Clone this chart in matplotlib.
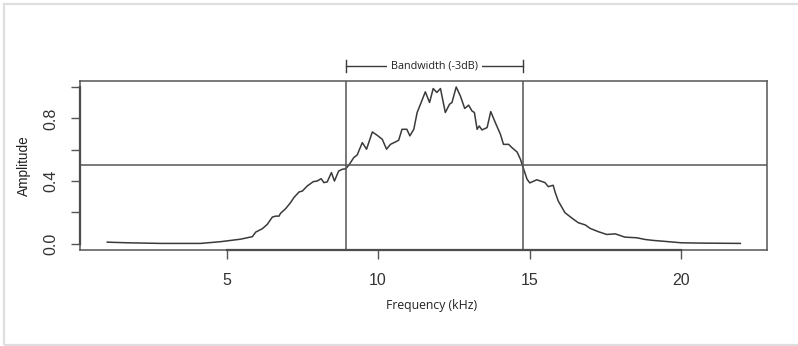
import matplotlib
matplotlib.use("Agg")
import matplotlib.pyplot as plt
import matplotlib.transforms as mtransforms
from matplotlib.patches import Rectangle

# spectrum (kHz, normalised amplitude)
freq = [1.06, 1.73, 2.83, 4.14, 4.80, 5.46, 5.85, 5.96, 6.18, 6.34, 6.51, 6.62,
        6.73, 6.78, 6.95, 7.11, 7.22, 7.39, 7.50, 7.66, 7.86, 7.99, 8.12, 8.21,
        8.32, 8.46, 8.56, 8.70, 8.82, 8.93, 9.03, 9.20, 9.31, 9.48, 9.62, 9.81,
        9.97, 10.14, 10.28, 10.41, 10.57, 10.68, 10.79, 10.95, 11.05, 11.18,
        11.29, 11.40, 11.56, 11.70, 11.82, 11.94, 12.06, 12.22, 12.36, 12.44,
        12.58, 12.72, 12.86, 12.99, 13.10, 13.18, 13.27, 13.34, 13.43, 13.60,
        13.72, 13.87, 14.04, 14.14, 14.31, 14.42, 14.59, 14.70, 14.77, 14.92,
        15.01, 15.24, 15.51, 15.62, 15.78, 15.85, 15.95, 16.17, 16.41, 16.61,
        16.84, 17.00, 17.27, 17.55, 17.83, 18.15, 18.54, 18.82, 19.09, 19.47,
        20.01, 20.63, 21.96]
amp = [0.010, 0.006, 0.002, 0.002, 0.013, 0.029, 0.045, 0.074, 0.096, 0.123,
       0.170, 0.176, 0.176, 0.194, 0.224, 0.262, 0.294, 0.330, 0.336, 0.368,
       0.396, 0.400, 0.415, 0.390, 0.394, 0.454, 0.400, 0.464, 0.475, 0.478,
       0.500, 0.550, 0.566, 0.645, 0.603, 0.713, 0.692, 0.666, 0.603, 0.634,
       0.649, 0.660, 0.730, 0.730, 0.688, 0.730, 0.837, 0.890, 0.969, 0.901,
       0.990, 0.965, 0.990, 0.837, 0.890, 0.901, 1.000, 0.941, 0.863, 0.884,
       0.847, 0.837, 0.730, 0.751, 0.726, 0.741, 0.843, 0.773, 0.698, 0.634,
       0.634, 0.613, 0.585, 0.539, 0.497, 0.411, 0.388, 0.408, 0.390, 0.364,
       0.373, 0.326, 0.272, 0.198, 0.162, 0.134, 0.120, 0.098, 0.077, 0.059,
       0.063, 0.042, 0.038, 0.027, 0.021, 0.015, 0.006, 0.004, 0.002]

half_power = 0.5
band_lo, band_hi = 8.95, 14.77
x_ticks = [5, 10, 15, 20]
y_ticks = [0.0, 0.2, 0.4, 0.6, 0.8, 1.0]
y_labels = ["0.0", "", "0.4", "", "0.8", ""]

ink = "#3a3a3a"
box = "#555555"

fig = plt.figure(figsize=(7.98, 3.46), dpi=100)
# light frame around the whole picture
fig.patches.append(Rectangle((3.5 / 798, 1 / 346), 1.2, 341 / 346, transform=fig.transFigure,
                             fill=False, edgecolor="#dedede", linewidth=1.6))

ax = fig.add_axes([80 / 798, 1 - 250 / 346, 687 / 798, 169.3 / 346])
ax.plot(freq, amp, color=ink, linewidth=1.1)
ax.axhline(half_power, color=box, linewidth=1.1)
ax.axvline(band_lo, color=box, linewidth=1.1)
ax.axvline(band_hi, color=box, linewidth=1.1)

ax.set_xlim(0.16, 22.84)
ax.set_ylim(-0.04, 1.04)
for s in ax.spines.values():
    s.set_color(box)
    s.set_linewidth(1.1)

ax.set_xticks(x_ticks)
ax.set_xticklabels([str(t) for t in x_ticks])
ax.set_yticks(y_ticks)
ax.set_yticklabels(y_labels, rotation=90, va="center")
ax.tick_params(axis="both", direction="out", length=6.5, width=1.0, color=box,
               labelsize=11.5, labelcolor="#333333")
ax.tick_params(axis="x", pad=10)
ax.tick_params(axis="y", pad=9)
for lab in ax.get_xticklabels() + ax.get_yticklabels():
    lab.set_fontfamily("Liberation Sans")

# R-style axis lines over the box between first and last tick
xb = mtransforms.blended_transform_factory(ax.transData, ax.transAxes)
yb = mtransforms.blended_transform_factory(ax.transAxes, ax.transData)
ax.plot([x_ticks[0], x_ticks[-1]], [0, 0], transform=xb, color="#333333",
        linewidth=1.6, clip_on=False)
ax.plot([0, 0], [y_ticks[0], y_ticks[-1]], transform=yb, color="#333333",
        linewidth=1.6, clip_on=False)

ax.text(-0.081, 0.5, "Amplitude", transform=ax.transAxes, rotation=90,
        ha="center", va="center", fontsize=9.8, color="#222222",
        family="Liberation Sans")
fig.text(432 / 798, 1 - 305 / 346, "Frequency (kHz)", ha="center", va="center",
         fontsize=8.8, color="#222222", family="Open Sans")

# bandwidth bracket above the plot
yl = 1.0886
ax.plot([band_lo, band_hi], [yl, yl], transform=xb, color=ink, linewidth=1.0,
        clip_on=False)
for b in (band_lo, band_hi):
    ax.plot([b, b], [yl - 0.035, yl + 0.033], transform=xb, color=ink,
            linewidth=1.0, clip_on=False)
ax.text((band_lo + band_hi) / 2, yl, "Bandwidth (-3dB)", transform=xb,
        ha="center", va="center", fontsize=7.8, color="#222222",
        family="Open Sans",
        bbox=dict(boxstyle="square,pad=0.35", facecolor="white", edgecolor="none"))

fig.savefig("out.png", dpi=100)
